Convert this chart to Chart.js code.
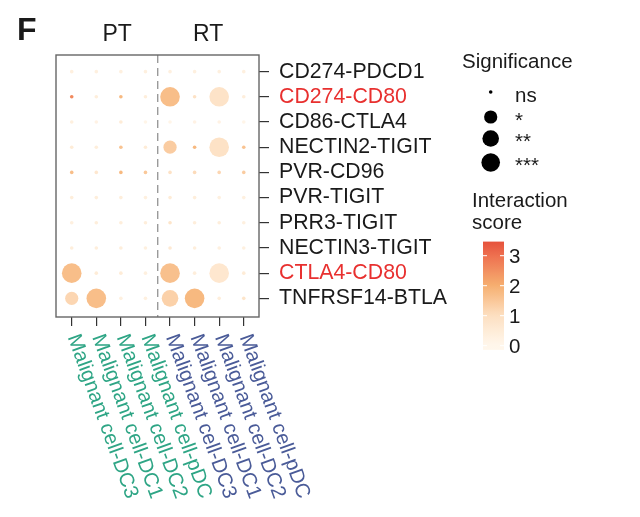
<!DOCTYPE html>
<html><head><meta charset="utf-8">
<script src="https://cdn.jsdelivr.net/npm/chart.js@4.4.1/dist/chart.umd.min.js"></script>
<style>html,body{margin:0;padding:0;background:#fff}#wrap{width:640px;height:517px}</style>
</head><body><div id="wrap"><canvas id="c" width="640" height="517"></canvas></div>
<script>
const pairs = ['CD274-PDCD1','CD274-CD80','CD86-CTLA4','NECTIN2-TIGIT','PVR-CD96','PVR-TIGIT','PRR3-TIGIT','NECTIN3-TIGIT','CTLA4-CD80','TNFRSF14-BTLA'];
const highlightPairs = ['CD274-CD80','CTLA4-CD80'];
const cells = ['Malignant cell-DC3','Malignant cell-DC1','Malignant cell-DC2','Malignant cell-pDC','Malignant cell-DC3','Malignant cell-DC1','Malignant cell-DC2','Malignant cell-pDC'];
const cellGroups = ['PT','PT','PT','PT','RT','RT','RT','RT'];
const groupNames = ['PT','RT'];
const scores = [
  [0.3,0.3,0.3,0.3, 0.3,0.3,0.3,0.3],
  [2.6,0.4,1.8,0.4, 1.7,0.9,0.85,0.4],
  [0.3,0.2,0.5,0.1, 0.1,0.2,0.2,0.1],
  [0.5,0.4,1.6,0.5, 1.4,1.8,0.9,1.6],
  [1.7,0.7,1.8,1.5, 0.9,1.1,1.2,1.4],
  [0.4,0.4,0.4,0.3, 0.5,0.4,0.3,0.3],
  [0.3,0.4,0.4,0.4, 0.8,0.4,0.4,0.3],
  [0.4,0.4,0.4,0.3, 0.6,0.4,0.3,0.3],
  [1.7,0.5,0.5,0.3, 1.65,0.4,0.7,0.5],
  [1.2,1.7,0.3,0.3, 1.3,1.8,0.4,0.8]
];
const signif = [
  ['ns','ns','ns','ns','ns','ns','ns','ns'],
  ['ns','ns','ns','ns','***','ns','***','ns'],
  ['ns','ns','ns','ns','ns','ns','ns','ns'],
  ['ns','ns','ns','ns','*','ns','***','ns'],
  ['ns','ns','ns','ns','ns','ns','ns','ns'],
  ['ns','ns','ns','ns','ns','ns','ns','ns'],
  ['ns','ns','ns','ns','ns','ns','ns','ns'],
  ['ns','ns','ns','ns','ns','ns','ns','ns'],
  ['***','ns','ns','ns','***','ns','***','ns'],
  ['*','***','ns','ns','**','***','ns','ns']
];
const sigLevels = ['ns','*','**','***'];
const colorTicks = [0,1,2,3];

const FONT = '"Liberation Sans", Arial, sans-serif';
const sigRadius = {'ns':1.8,'*':6.6,'**':8.3,'***':9.8};
const colorStops = [[0,[255,247,236]],[1,[253,224,194]],[2,[246,175,112]],[3,[238,112,80]],[3.5,[230,80,58]]];
function colorFor(v){
  if (v <= colorStops[0][0]) return 'rgb('+colorStops[0][1].join(',')+')';
  for (let k=1;k<colorStops.length;k++){
    const [v1,c1]=colorStops[k];
    if (v<=v1){
      const [v0,c0]=colorStops[k-1];
      const t=(v-v0)/(v1-v0);
      return 'rgb('+c0.map((c,i)=>Math.round(c+(c1[i]-c)*t)).join(',')+')';
    }
  }
  return 'rgb('+colorStops[colorStops.length-1][1].join(',')+')';
}

const points = [];
pairs.forEach((p,i)=>cells.forEach((c,j)=>points.push({x:j,y:i,r:sigRadius[signif[i][j]],v:scores[i][j]})));

const deco = {
  id:'deco',
  beforeDatasetsDraw(chart){
    const ctx=chart.ctx, xs=chart.scales.x, a=chart.chartArea;
    const xd = xs.getPixelForValue(3.5);
    ctx.save();
    ctx.strokeStyle='#8a8a8a';ctx.lineWidth=1.2;ctx.setLineDash([8,5]);
    ctx.beginPath();ctx.moveTo(xd,a.top);ctx.lineTo(xd,a.bottom);ctx.stroke();
    ctx.restore();
  },
  afterDraw(chart){
    const ctx=chart.ctx, xs=chart.scales.x, a=chart.chartArea;
    ctx.save();
    // box
    ctx.strokeStyle='#666';ctx.lineWidth=1.4;
    ctx.strokeRect(a.left,a.top,a.right-a.left,a.bottom-a.top);
    // x labels
    ctx.font='20.5px '+FONT;ctx.textAlign='left';ctx.textBaseline='middle';
    cells.forEach((c,i)=>{
      const px=xs.getPixelForValue(i);
      ctx.save();ctx.translate(px+1,335);ctx.rotate(70*Math.PI/180);
      ctx.fillStyle = cellGroups[i]==='PT' ? '#2ea585' : '#4a5b98';
      ctx.fillText(c,0,0);ctx.restore();
    });
    // group titles
    ctx.fillStyle='#1a1a1a';ctx.textAlign='center';ctx.font='23px '+FONT;
    ctx.fillText(groupNames[0],xs.getPixelForValue(1.85),35);
    ctx.fillText(groupNames[1],xs.getPixelForValue(5.55),35);
    // panel letter
    ctx.font='bold 32px '+FONT;ctx.textAlign='left';ctx.textBaseline='alphabetic';
    ctx.fillText('F',17,40);
    // significance legend
    ctx.textBaseline='middle';
    ctx.font='20.5px '+FONT;ctx.fillStyle='#1a1a1a';
    ctx.fillText('Significance',462,62);
    const ly=[92,117,138.5,162.5];
    sigLevels.forEach((s,k)=>{
      ctx.beginPath();ctx.arc(490.7,ly[k],sigRadius[s]*(k===3?0.95:1),0,Math.PI*2);ctx.fillStyle='#000';ctx.fill();
      ctx.fillStyle='#1a1a1a';
      ctx.fillText(s,515,ly[k]+(k===0?4:4));
    });
    // colour bar
    ctx.fillText('Interaction',472,201);
    ctx.fillText('score',472,223);
    const y0=345.7, u=30, bx=483, bw=21;
    const yTop=y0-3.47*u, yBot=y0+0.14*u;
    const g=ctx.createLinearGradient(0,yBot,0,yTop);
    for(let k=0;k<=20;k++){const v=-0.14+(3.61)*k/20;g.addColorStop(k/20,colorFor(Math.max(0,v)));}
    ctx.fillStyle=g;ctx.fillRect(bx,yTop,bw,yBot-yTop);
    ctx.strokeStyle='#fff';ctx.lineWidth=1;
    colorTicks.forEach(t=>{
      const yy=y0-t*u;
      ctx.beginPath();ctx.moveTo(bx,yy);ctx.lineTo(bx+4,yy);ctx.moveTo(bx+bw-4,yy);ctx.lineTo(bx+bw,yy);ctx.stroke();
      ctx.fillStyle='#1a1a1a';ctx.textBaseline='middle';ctx.fillText(String(t),509,yy+2);
    });
    ctx.restore();
  }
};

new Chart(document.getElementById('c'),{
  type:'bubble',
  data:{datasets:[{data:points,borderWidth:0,
    backgroundColor:ctx=>colorFor(ctx.raw?ctx.raw.v:0),
    hoverRadius:0}]},
  options:{
    responsive:false,animation:false,events:[],
    layout:{padding:{left:56,top:55,right:0,bottom:0}},
    plugins:{legend:{display:false},tooltip:{enabled:false}},
    scales:{
      x:{type:'linear',min:-0.64,max:7.62,
        afterBuildTicks:s=>{s.ticks=cells.map((_,i)=>({value:i}));},
        ticks:{display:false},
        grid:{drawOnChartArea:false,drawTicks:true,tickLength:9,color:'#333',lineWidth:1.2},
        border:{display:false},
        afterFit:s=>{s.height=200;}},
      y:{type:'linear',position:'right',reverse:true,min:-0.66,max:9.74,
        afterBuildTicks:s=>{s.ticks=pairs.map((_,i)=>({value:i}));},
        ticks:{autoSkip:false,padding:10,font:{size:21.3,family:FONT},
          callback:(v,i)=>pairs[i],
          color:c=>highlightPairs.includes(pairs[c.index])?'#e8302f':'#1a1a1a'},
        grid:{drawOnChartArea:false,drawTicks:true,tickLength:10,color:'#333',lineWidth:1.2},
        border:{display:false},
        afterFit:s=>{s.width=381;}}
    }
  },
  plugins:[deco]
});
</script></body></html>
